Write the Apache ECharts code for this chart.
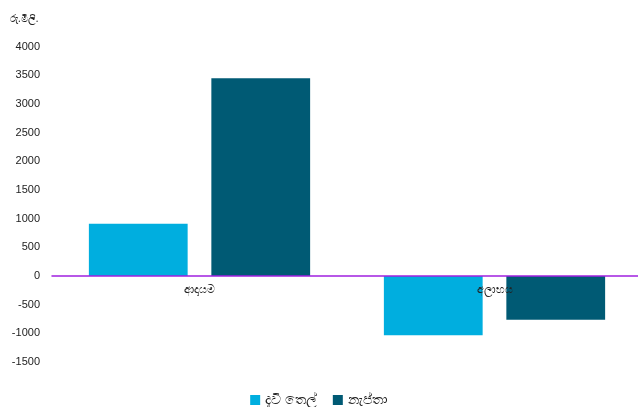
<!DOCTYPE html>
<html><head><meta charset="utf-8">
<script src="https://cdn.jsdelivr.net/npm/echarts@6/dist/echarts.min.js"></script>
<style>html,body{margin:0;padding:0;background:#fff}#c{width:638px;height:407px}</style>
</head><body><div id="c"></div>
<script>
const categories = ['ආදායම', 'අලාභය'];
const seriesNames = ['දැවි තෙල්', 'නැප්තා'];
const furnaceOil = [910, -1035];
const naphtha = [3445, -765];
const yTicks = {min: -1500, max: 4000, interval: 500};
const unitLabel = 'රු.මිලි.';

const chart = echarts.init(document.getElementById('c'));
chart.setOption({
  animation: false,
  textStyle: {fontFamily: 'Noto Sans, DejaVu Sans, sans-serif'},
  grid: {left: 52, right: -4, top: 46.5, bottom: 45, outerBoundsMode: 'none', containLabel: false},
  legend: {
    top: 388, left: 'center', itemWidth: 10, itemHeight: 10, itemGap: 16,
    icon: 'rect',
    textStyle: {fontSize: 14, color: '#222'},
    data: seriesNames
  },
  xAxis: {
    type: 'category', data: categories, z: 10,
    offset: -86.3,
    axisLine: {onZero: false, lineStyle: {color: '#A020E0', width: 1.5}},
    axisTick: {show: false},
    axisLabel: {fontSize: 11, color: '#222', margin: 9}
  },
  yAxis: {
    type: 'value', min: yTicks.min, max: yTicks.max, interval: yTicks.interval,
    name: unitLabel, nameLocation: 'end', nameGap: 22,
    nameTextStyle: {fontSize: 10, color: '#222', align: 'left', padding: [0, 0, 0, -42]},
    splitLine: {show: false}, axisLine: {show: false}, axisTick: {show: false},
    axisLabel: {fontSize: 11, color: '#222', margin: 12, fontFamily: 'Liberation Sans, sans-serif',
      formatter: v => String(v)}
  },
  series: [
    {name: seriesNames[0], type: 'bar', data: furnaceOil, barGap: '24%', barCategoryGap: '25%',
     itemStyle: {color: '#00AEDF'}},
    {name: seriesNames[1], type: 'bar', data: naphtha,
     itemStyle: {color: '#005A74'}}
  ]
});
</script></body></html>
